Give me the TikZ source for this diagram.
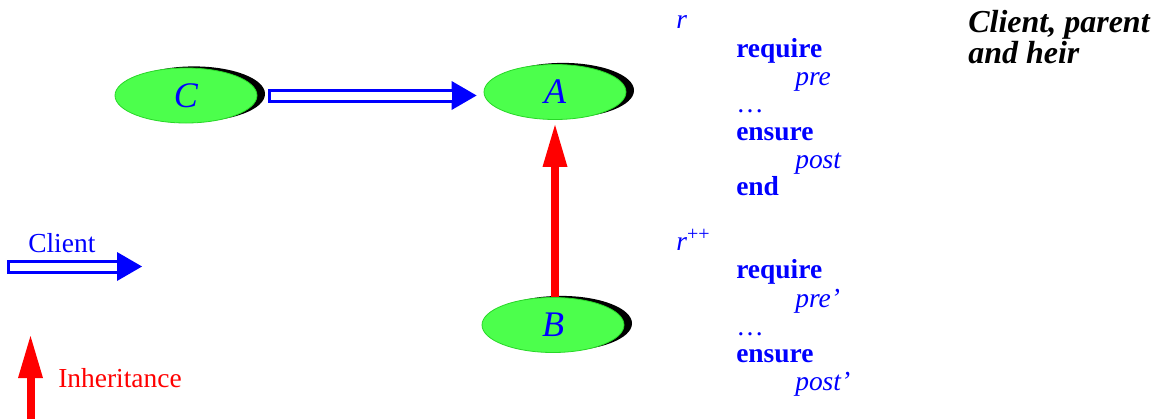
\documentclass[tikz,border=0pt]{standalone}
\usepackage{fontspec}
\setmainfont{Liberation Serif}[BoldFont={Liberation Serif Bold}, ItalicFont={Liberation Serif Italic}, BoldItalicFont={Liberation Serif Bold Italic}]
\usetikzlibrary{arrows.meta,shadows,calc,shapes.geometric}
\definecolor{nodegreen}{RGB}{76,255,76}
\definecolor{edgegreen}{RGB}{40,215,40}
\tikzset{
  cls/.style={ellipse, minimum width=106.5pt, minimum height=41.25pt, inner sep=0pt,
    fill=nodegreen, draw=edgegreen, line width=0.6pt, text=blue,
    font=\fontsize{27}{27}\selectfont\itshape,
    drop shadow={shadow xshift=6pt, shadow yshift=1.2pt, fill=black, opacity=1}},
  clientouter/.style={draw=blue, line width=10.5pt,
    -{Triangle[length=18.75pt,width=21.75pt,line width=0pt]}},
  clientinner/.style={draw=white, line width=6pt},
  inh/.style={draw=red, line width=6pt,
    -{Triangle[length=31.5pt,width=18.75pt,line width=0pt]}},
  code/.style={anchor=base west, inner sep=0pt, text=blue, font=\fontsize{20.6}{24}\selectfont},
  kw/.style={code, font=\fontsize{20.6}{24}\selectfont\bfseries},
  it/.style={code, font=\fontsize{20.6}{24}\selectfont\itshape},
  title/.style={anchor=base west, inner sep=0pt, text=black, font=\fontsize{24}{28}\selectfont\bfseries\itshape},
}
\begin{document}
\begin{tikzpicture}[x=0.75pt, y=-0.75pt]
\useasboundingbox (0,0) rectangle (1168,418);
% classes
\node[cls] (C) at (186,95.5) {C};
\node[cls] (A) at (555,92) {A};
\node[cls] (B) at (553,325) {B};
% client C -> A
\draw[clientouter, shorten <=8.25pt, shorten >=5.25pt] (C.east) -- (C.east -| A.west);
\draw[clientinner, shorten <=10.5pt, shorten >=24pt] (C.east) -- (C.east -| A.west);
% inheritance B -> A
\draw[inh, shorten >=3.75pt] (A.south |- B.north) -- (A.south);
% legend
\coordinate (lc1) at (7,266.5);
\coordinate (lc2) at (142,266.5);
\draw[clientouter] (lc1) -- (lc2);
\draw[clientinner, shorten <=2.25pt, shorten >=18.75pt] (lc1) -- (lc2);
\node[code, text=blue] (lcl) at (28,252) {Client};
\coordinate (li1) at (30.5,420);
\coordinate (li2) at (30.5,336);
\draw[inh] (li1) -- (li2);
\node[code, text=red] (lil) at (58,387) {Inheritance};
% code text
\node[it] (r1) at (676,28) {r};
\node[kw] (req1) at (736,57) {require};
\node[it] (pre1) at (795,85) {pre};
\node[code] (dots1) at (736,112) {…};
\node[kw] (ens1) at (736,140) {ensure};
\node[it] (post1) at (795,168) {post};
\node[kw] (end1) at (736,195) {end};
\node[code] (r2) at (676,250) {\textit{r}\raisebox{7pt}{\fontsize{15}{15}\selectfont ++}};
\node[kw] (req2) at (736,278) {require};
\node[it] (pre2) at (795,307) {pre’};
\node[code] (dots2) at (736,335) {…};
\node[kw] (ens2) at (736,362) {ensure};
\node[it] (post2) at (795,390) {post’};
% title
\node[title] (t1) at (968,32) {Client, parent};
\node[title] (t2) at (968,63) {and heir};
\end{tikzpicture}
\end{document}
